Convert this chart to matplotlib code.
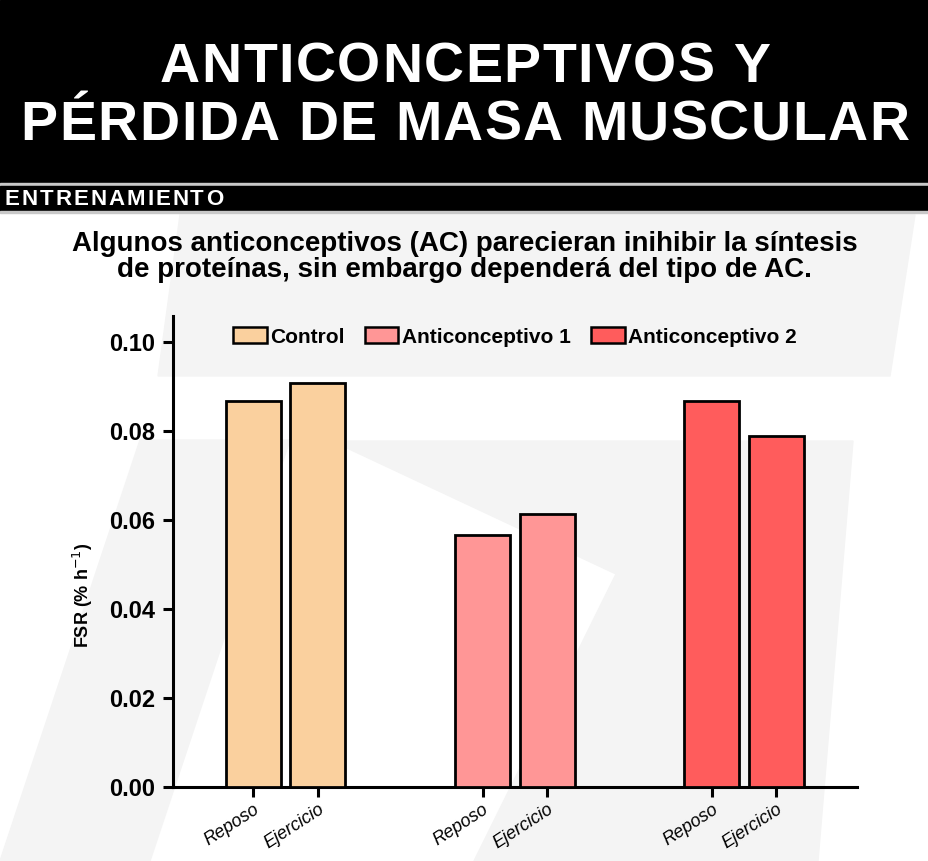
import numpy as np
import matplotlib.pyplot as plt
import matplotlib.font_manager as fm
from matplotlib.patches import Rectangle, Polygon, Patch

W, H = 929, 861

groups = ['Control', 'Anticonceptivo 1', 'Anticonceptivo 2']
conditions = ['Reposo', 'Ejercicio']
fsr_reposo = [0.0866, 0.0566, 0.0868]
fsr_ejercicio = [0.0907, 0.0614, 0.0788]
colors = ['#FAD09E', '#FF9696', '#FF5C5C']
yticks = [0.00, 0.02, 0.04, 0.06, 0.08, 0.10]

title_lines = ['ANTICONCEPTIVOS Y', 'PÉRDIDA DE MASA MUSCULAR']
section = 'ENTRENAMIENTO'
subtitle = ('Algunos anticonceptivos (AC) parecieran inihibir la síntesis\n'
            'de proteínas, sin embargo dependerá del tipo de AC.')

plt.rcParams['font.family'] = ['Liberation Sans', 'DejaVu Sans']


def fx(px):
    return px / W


def fy(py):
    return 1 - py / H


fig = plt.figure(figsize=(W / 100, H / 100), dpi=100)
fig.patch.set_facecolor('white')

# faint watermark behind the chart
wm = [
    [(180, 215), (915, 215), (890, 376), (158, 376)],
    [(140, 440), (290, 440), (150, 861), (0, 861)],
    [(332, 441), (853, 441), (818, 861), (474, 861), (616, 574)],
]
for poly in wm:
    fig.patches.append(Polygon([(fx(a), fy(b)) for a, b in poly], closed=True,
                               transform=fig.transFigure, color='#f4f4f4', zorder=-5))

# header bands
fig.patches.append(Rectangle((0, fy(183)), 1, 183 / H, transform=fig.transFigure,
                             color='black', zorder=1))
fig.patches.append(Rectangle((0, fy(186)), 1, 3 / H, transform=fig.transFigure,
                             color='#c8c8c8', zorder=1))
fig.patches.append(Rectangle((0, fy(211)), 1, 25 / H, transform=fig.transFigure,
                             color='black', zorder=1))
fig.patches.append(Rectangle((0, fy(213)), 1, 2 / H, transform=fig.transFigure,
                             color='#c8c8c8', zorder=1))


def spaced_text(x, y, s, size, spacing, center=False, color='white'):
    fp = fm.FontProperties(family='Liberation Sans', weight='bold')
    font = fm.get_font(fm.findfont(fp))
    font.set_size(size, 100)
    adv = [font.load_char(ord(c)).linearHoriAdvance / 65536 for c in s]
    total = sum(adv) + spacing * (len(s) - 1)
    if center:
        x = x - total / 2
    for c, a in zip(s, adv):
        fig.text(fx(x), fy(y), c, fontproperties=fp, fontsize=size,
                 color=color, ha='left', va='baseline', zorder=3)
        x += a + spacing


spaced_text(465, 82, title_lines[0], 40, 1.5, center=True)
spaced_text(465, 140, title_lines[1], 40, 1.5, center=True)
spaced_text(5, 205, section, 16, 2)

fig.text(0.5, fy(257), subtitle, ha='center', va='center', fontsize=20,
         weight='bold', linespacing=1.0)

ax = fig.add_axes([fx(172.7), fy(787), fx(857 - 172.7), (787 - 316) / H])
ax.set_zorder(2)
ax.patch.set_alpha(0)

x = np.arange(len(groups))
off = 0.1408
width = 0.24
ax.bar(x - off, fsr_reposo, width, color=colors, edgecolor='black', linewidth=2, zorder=3)
ax.bar(x + off, fsr_ejercicio, width, color=colors, edgecolor='black', linewidth=2, zorder=3)

ax.set_xlim(-0.493, 2.493)
ax.set_ylim(0, 0.1058)
ax.set_yticks(yticks)
ax.set_yticklabels([f'{v:.2f}' for v in yticks], fontsize=17, weight='bold')

xt = np.concatenate([x - off, x + off])
xl = [conditions[0]] * len(groups) + [conditions[1]] * len(groups)
ax.set_xticks(xt)
ax.set_xticklabels(xl, rotation=33, ha='right', va='top', rotation_mode='anchor',
                   fontsize=13, style='italic')

for s in ['top', 'right']:
    ax.spines[s].set_visible(False)
for s in ['left', 'bottom']:
    ax.spines[s].set_linewidth(2.2)
ax.tick_params(axis='both', width=2.2, length=7.2, color='black')
ax.tick_params(axis='y', pad=5.5)
ax.tick_params(axis='x', pad=3)

fig.text(fx(83), fy(595), 'FSR (% h$^{-1}$)', rotation=90, ha='center', va='center',
         fontsize=13, weight='bold')

handles = [Patch(facecolor=c, edgecolor='black', linewidth=1.8) for c in colors]
ax.legend(handles, groups, loc='upper center', bbox_to_anchor=(0.5, 1.0), ncol=3,
          frameon=False, prop={'weight': 'bold', 'size': 15},
          handlelength=1.6, handleheight=0.8, handletextpad=0.15,
          columnspacing=1.0, borderaxespad=0.15)

fig.savefig('out.png', dpi=100)
